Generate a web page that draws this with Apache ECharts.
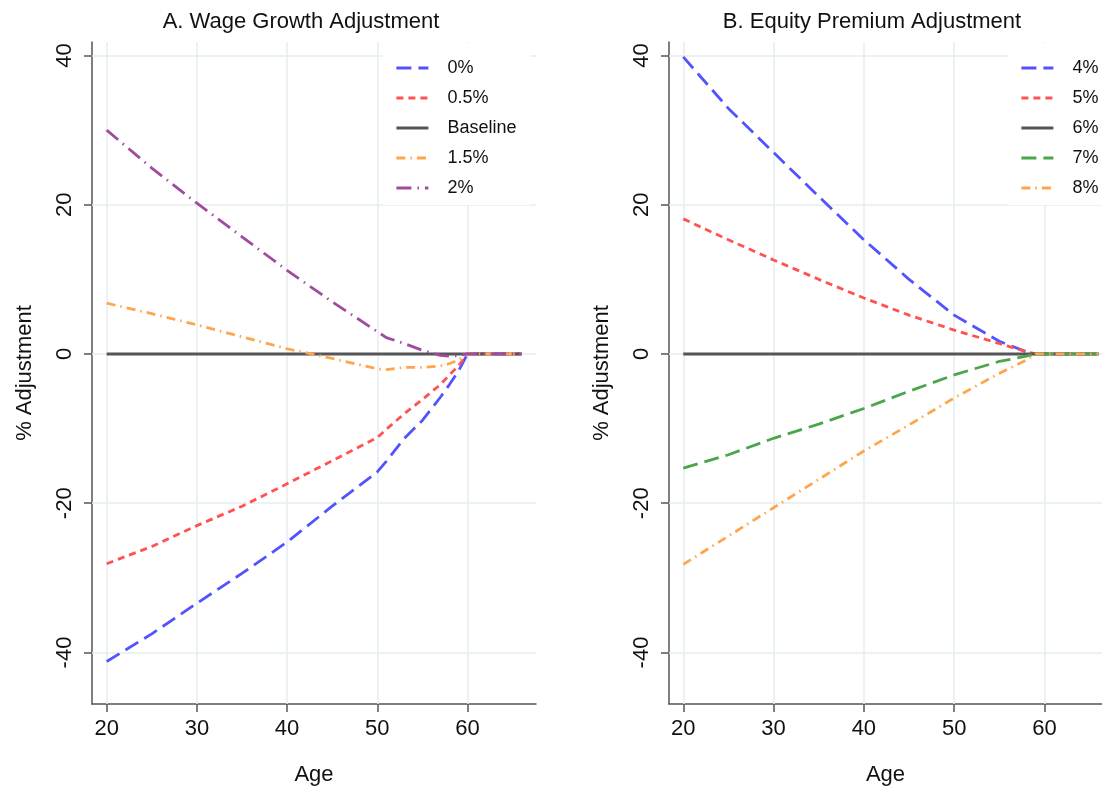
<!DOCTYPE html>
<html><head><meta charset="utf-8">
<script src="https://cdn.jsdelivr.net/npm/echarts@6/dist/echarts.min.js"></script>
<style>html,body{margin:0;padding:0;background:#fff}#c{width:1102px;height:787px}</style>
</head><body><div id="c"></div>
<script>
// ---------- data ----------
const xTicks = [20, 30, 40, 50, 60];
const yTicks = [-40, -20, 0, 20, 40];

const titleA = 'A. Wage Growth Adjustment';
const titleB = 'B. Equity Premium Adjustment';

// Panel A: wage growth
const agesBlueA   = [20, 25, 30, 35, 40, 45, 50, 51, 53, 55, 57, 58, 59, 60, 66];
const wage0       = [-41.2, -37.5, -33.4, -29.4, -25.2, -20.4, -15.8, -14.4, -11.3, -8.9, -5.8, -4.1, -2.3, 0, 0];
const agesRedA    = [20, 25, 30, 35, 40, 45, 50, 51, 53, 55, 57, 58, 59, 60, 66];
const wage05      = [-28.1, -25.8, -23.0, -20.4, -17.4, -14.3, -11.2, -10.1, -8.0, -6.1, -4.1, -2.8, -1.6, 0, 0];
const agesBase    = [20, 66];
const baseline    = [0, 0];
const agesOrangeA = [20, 25, 30, 35, 40, 45, 50, 51, 53, 55, 57, 58, 59, 60, 66];
const wage15      = [6.8, 5.4, 3.9, 2.3, 0.7, -0.6, -2.0, -2.1, -1.8, -1.8, -1.6, -1.3, -0.8, 0, 0];
const agesPurpleA = [20, 25, 30, 35, 40, 45, 50, 51, 53, 55, 57, 58, 59, 60, 66];
const wage2       = [30.0, 24.9, 20.2, 15.7, 11.2, 7.0, 3.0, 2.2, 1.4, 0.5, -0.2, -0.3, -0.2, 0, 0];

// Panel B: equity premium
const agesB = [20, 25, 30, 35, 40, 45, 50, 55, 58, 59, 66];
const eq4   = [39.8, 32.9, 27.0, 21.1, 15.3, 10.0, 5.2, 1.7, 0.3, 0, 0];
const eq5   = [18.1, 15.3, 12.6, 10.0, 7.5, 5.2, 3.2, 1.4, 0.3, 0, 0];
const eq6   = [0, 0, 0, 0, 0, 0, 0, 0, 0, 0, 0];
const eq7   = [-15.3, -13.5, -11.3, -9.4, -7.3, -5.0, -2.8, -1.0, -0.3, 0, 0];
const eq8   = [-28.2, -24.4, -20.6, -16.8, -13.0, -9.5, -5.9, -2.6, -0.8, 0, 0];

// ---------- styling ----------
const FONT = '"Liberation Sans", Arial, Helvetica, sans-serif';
const C = { blue: '#5252ff', red: '#ff5252', gray: '#555555', orange: '#ffa54c', purple: '#a04aa0', green: '#4ba54b' };
const DASH = { long: [15, 7], short: [7, 5], dashdot: [9, 5, 1.5, 5], longdashdot: [15, 6, 1.5, 6] };
const GRIDC = '#e6eef0';
const TXT = '#111';

function zip(xs, ys) { return xs.map((x, i) => [x, ys[i]]); }

function lineSeries(name, ages, vals, color, dash, gi, width) {
  return {
    type: 'line', name, data: zip(ages, vals),
    xAxisIndex: gi, yAxisIndex: gi, symbol: 'none', z: 3, silent: true,
    lineStyle: { color, width: width || 2.8, type: dash || 'solid', cap: 'butt' },
    itemStyle: { color },
    emphasis: { disabled: true }
  };
}

function gridSeries(gi) {
  return {
    type: 'line', data: [], xAxisIndex: gi, yAxisIndex: gi, z: 1, silent: true,
    markLine: {
      z: 1, zlevel: 0,
      silent: true, symbol: ['none', 'none'], animation: false,
      label: { show: false },
      lineStyle: { color: GRIDC, width: 1.5, type: 'solid' },
      emphasis: { disabled: true },
      data: yTicks.map(v => ({ yAxis: v })).concat(xTicks.map(v => ({ xAxis: v })))
    }
  };
}

function xAxis(gi, min, max) {
  return {
    type: 'value', gridIndex: gi, min, max,
    name: 'Age', nameLocation: 'middle', nameGap: 60,
    nameTextStyle: { fontFamily: FONT, fontSize: 22, color: TXT },
    axisLine: { show: true, onZero: false, lineStyle: { color: '#555', width: 1.5 } },
    axisTick: { show: true, length: 8, customValues: xTicks, lineStyle: { color: '#555', width: 1.5 } },
    axisLabel: { customValues: xTicks, margin: 14, fontFamily: FONT, fontSize: 22, color: TXT },
    splitLine: { show: false }
  };
}
function yAxis(gi) {
  return {
    type: 'value', gridIndex: gi, min: -46.9, max: 41.8,
    name: '% Adjustment', nameLocation: 'middle', nameGap: 56, nameRotate: 90,
    nameTextStyle: { fontFamily: FONT, fontSize: 22, color: TXT },
    axisLine: { show: true, onZero: false, lineStyle: { color: '#555', width: 1.5 } },
    axisTick: { show: true, length: 8, customValues: yTicks, lineStyle: { color: '#555', width: 1.5 } },
    axisLabel: { customValues: yTicks, rotate: 90, margin: 16, fontFamily: FONT, fontSize: 22, color: TXT },
    splitLine: { show: false }
  };
}
function legendItem(name, dash) {
  return { name, lineStyle: { type: Array.isArray(dash) ? dash : 'solid', width: 2.8 } };
}
function legend(items, left) {
  return {
    z: 20,
    orient: 'vertical', left, top: 43, align: 'left',
    backgroundColor: '#ffffff', padding: [16, 14, 8, 12],
    itemWidth: 32, itemHeight: 14, itemGap: 12,
    selectedMode: false,
    itemStyle: { opacity: 0 },
    lineStyle: { width: 2.8 },
    textStyle: { fontFamily: FONT, fontSize: 18, color: TXT, lineHeight: 18, padding: [0, 0, 0, 14] },
    data: items
  };
}

const chart = echarts.init(document.getElementById('c'), null, { renderer: 'canvas' });
chart.setOption({
  animation: false,
  backgroundColor: '#ffffff',
  grid: [
    { left: 92, top: 42, width: 444, height: 662, outerBoundsMode: 'none', containLabel: false },
    { left: 669, top: 42, width: 433, height: 662, outerBoundsMode: 'none', containLabel: false }
  ],
  xAxis: [xAxis(0, 18.37, 67.6), xAxis(1, 18.42, 66.37)],
  yAxis: [yAxis(0), yAxis(1)],
  legend: [
    legend([legendItem('0%', DASH.long), legendItem('0.5%', DASH.short), legendItem('Baseline', 'solid'),
            legendItem('1.5%', DASH.dashdot), legendItem('2%', DASH.longdashdot)], 383),
    legend([legendItem('4%', DASH.long), legendItem('5%', DASH.short), legendItem('6%', 'solid'),
            legendItem('7%', DASH.long), legendItem('8%', DASH.dashdot)], 1008)
  ],
  graphic: [
    { type: 'text', x: 301, y: 22, style: { text: titleA, font: '22px ' + FONT, fill: TXT, textAlign: 'center', textVerticalAlign: 'middle' } },
    { type: 'text', x: 872, y: 22, style: { text: titleB, font: '22px ' + FONT, fill: TXT, textAlign: 'center', textVerticalAlign: 'middle' } }
  ],
  series: [
    gridSeries(0),
    gridSeries(1),
    lineSeries('0%', agesBlueA, wage0, C.blue, DASH.long, 0),
    lineSeries('0.5%', agesRedA, wage05, C.red, DASH.short, 0),
    lineSeries('Baseline', agesBase, baseline, C.gray, 'solid', 0, 3),
    lineSeries('1.5%', agesOrangeA, wage15, C.orange, DASH.dashdot, 0),
    lineSeries('2%', agesPurpleA, wage2, C.purple, DASH.longdashdot, 0),
    lineSeries('4%', agesB, eq4, C.blue, DASH.long, 1),
    lineSeries('5%', agesB, eq5, C.red, DASH.short, 1),
    lineSeries('6%', agesB, eq6, C.gray, 'solid', 1, 3),
    lineSeries('7%', agesB, eq7, C.green, DASH.long, 1),
    lineSeries('8%', agesB, eq8, C.orange, DASH.dashdot, 1)
  ]
});
</script>
</body></html>
